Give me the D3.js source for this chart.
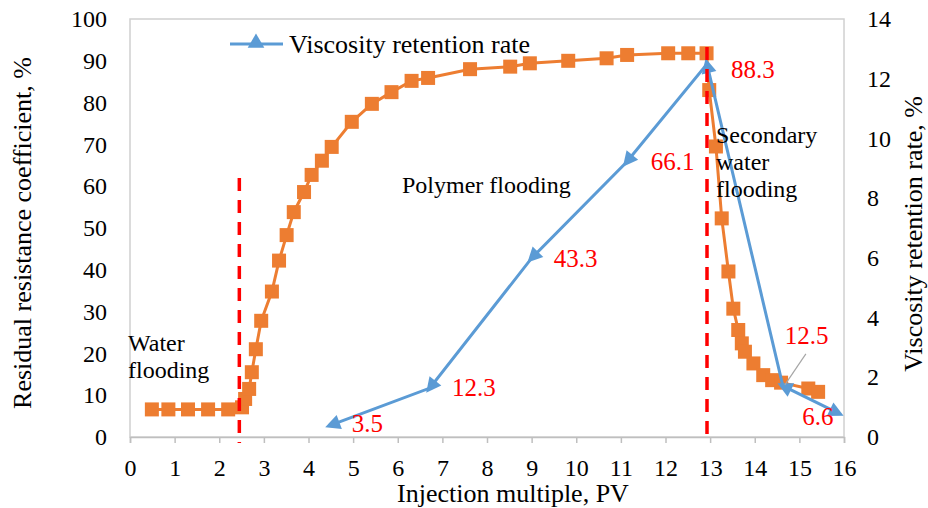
<!DOCTYPE html>
<html>
<head>
<meta charset="utf-8">
<script src="https://cdn.jsdelivr.net/npm/d3@7/dist/d3.min.js"></script>
<style>
  html, body { margin: 0; padding: 0; background: #fff; }
  svg { display: block; }
  svg text { font-family: "Liberation Serif", "Times New Roman", serif; }
</style>
</head>
<body>
<svg id="chart" width="928" height="508"></svg>
<script>
// ---------- data ----------
// Residual resistance coefficient (left axis)
const rrfX = [0.49,0.86,1.30,1.75,2.20,2.51,2.58,2.67,2.73,2.82,2.94,3.18,3.34,3.51,3.67,3.90,4.07,4.30,4.52,4.97,5.42,5.86,6.31,6.68,7.62,8.52,8.96,9.82,10.68,11.14,12.06,12.51,12.92,12.98,13.13,13.26,13.41,13.52,13.63,13.71,13.78,13.97,14.19,14.39,14.59,15.20,15.42];
const rrfY = [6.6,6.6,6.6,6.6,6.6,7.1,9.1,11.5,15.5,21.0,27.8,34.8,42.2,48.3,53.8,58.6,62.7,66.1,69.4,75.4,79.7,82.5,85.2,85.9,88.0,88.6,89.4,90.0,90.6,91.4,91.8,91.8,91.8,83.0,69.5,52.3,39.6,30.7,25.6,22.4,20.4,17.6,14.8,13.6,13.0,11.6,10.8];
// Viscosity retention rate (right axis)
const vrX = [4.50,6.72,9.00,11.13,12.93,14.63,15.87];
const vrY = [0.40,1.64,5.99,9.21,12.49,1.71,0.80];
const vrLabels = ["3.5","12.3","43.3","66.1","88.3","12.5","6.6"];
// stage boundaries (injection multiple, PV)
const stageBounds = [2.45, 12.93];
// ticks
const xTicks = d3.range(0, 17, 1);
const yLeftTicks = d3.range(0, 101, 10);
const yRightTicks = d3.range(0, 15, 2);

// ---------- layout ----------
const SERIF = "Liberation Serif, Times New Roman, serif";
const svg = d3.select("#chart");
const L = 130, R = 844, T = 19, B = 437;
const x = d3.scaleLinear().domain([0, 16]).range([L, R]);
const yL = d3.scaleLinear().domain([0, 100]).range([B, T]);
const yR = d3.scaleLinear().domain([0, 14]).range([B, T]);

const ORANGE = "#ED7D31", BLUE = "#5B9BD5", RED = "#FF0000", GRID = "#BFBFBF";
const FONT = 24;

// plot border
svg.append("rect").attr("x", L).attr("y", T).attr("width", R - L).attr("height", B - T)
  .attr("fill", "none").attr("stroke", "#D0D0D0").attr("stroke-width", 1.5);

// x axis
const gx = svg.append("g").attr("transform", `translate(0,${B})`)
  .call(d3.axisBottom(x).tickValues(xTicks).tickFormat(d3.format("d")).tickSize(6).tickPadding(16));
gx.attr("font-family", SERIF);
gx.select(".domain").attr("stroke", GRID).attr("stroke-width", 1.5);
gx.selectAll(".tick line").attr("stroke", GRID).attr("stroke-width", 1.5);
gx.selectAll("text").attr("font-size", FONT).attr("fill", "#000").attr("font-family", SERIF);

// left axis
const gl = svg.append("g").attr("transform", `translate(${L},0)`)
  .call(d3.axisLeft(yL).tickValues(yLeftTicks).tickSize(0).tickPadding(23));
gl.attr("font-family", SERIF);
gl.select(".domain").remove();
gl.selectAll("text").attr("font-size", FONT).attr("fill", "#000").attr("font-family", SERIF);

// right axis
const gr = svg.append("g").attr("transform", `translate(${R},0)`)
  .call(d3.axisRight(yR).tickValues(yRightTicks).tickSize(0).tickPadding(23));
gr.attr("font-family", SERIF);
gr.select(".domain").remove();
gr.selectAll("text").attr("font-size", FONT).attr("fill", "#000").attr("font-family", SERIF);

// axis titles
svg.append("text").attr("x", 513).attr("y", 502).attr("text-anchor", "middle")
  .attr("font-family", SERIF).attr("font-size", 26).text("Injection multiple, PV");
svg.append("text").attr("transform", "translate(31,233) rotate(-90)").attr("text-anchor", "middle")
  .attr("font-family", SERIF).attr("font-size", 26).text("Residual resistance coefficient, %");
svg.append("text").attr("transform", "translate(922,234) rotate(-90)").attr("text-anchor", "middle")
  .attr("font-family", SERIF).attr("font-size", 26).text("Viscosity retention rate, %");

// ---------- orange series ----------
const rrf = rrfX.map((d, i) => [d, rrfY[i]]);
svg.append("path").datum(rrf)
  .attr("fill", "none").attr("stroke", ORANGE).attr("stroke-width", 3)
  .attr("d", d3.line().x(d => x(d[0])).y(d => yL(d[1])));
const SQ = 14;
svg.append("g").selectAll("rect").data(rrf).join("rect")
  .attr("x", d => x(d[0]) - SQ / 2).attr("y", d => yL(d[1]) - SQ / 2)
  .attr("width", SQ).attr("height", SQ).attr("fill", ORANGE);

// ---------- blue series ----------
const vr = vrX.map((d, i) => [x(d), yR(vrY[i])]);
svg.append("path").datum(vr)
  .attr("fill", "none").attr("stroke", BLUE).attr("stroke-width", 3)
  .attr("d", d3.line());
function arrowHead(p, from) {
  const dx = p[0] - from[0], dy = p[1] - from[1];
  const len = Math.hypot(dx, dy), ux = dx / len, uy = dy / len;
  const tip = [p[0] + ux * 6, p[1] + uy * 6];
  const base = [p[0] - ux * 9, p[1] - uy * 9];
  const w = 7.5;
  return [tip, [base[0] - uy * w, base[1] + ux * w], [base[0] + uy * w, base[1] - ux * w]];
}
const heads = vr.map((p, i) => i < vr.length - 1 ? arrowHead(p, vr[i + 1]) : arrowHead(p, vr[i - 1]));
svg.append("g").selectAll("path").data(heads).join("path")
  .attr("d", d => "M" + d.map(q => q.join(",")).join("L") + "Z").attr("fill", BLUE);

// leader line for 12.5
svg.append("line").attr("x1", vr[5][0] + 2).attr("y1", vr[5][1] - 1)
  .attr("x2", vr[5][0] + 23).attr("y2", vr[5][1] - 32)
  .attr("stroke", "#A6A6A6").attr("stroke-width", 1.2);

// data labels
const labelOff = [[21, 7], [22, 8], [22, 9], [24, 8], [24, 14], [2, -42], [-36, 12]];
svg.append("g").attr("font-family", SERIF).selectAll("text").data(vr).join("text")
  .attr("x", (d, i) => d[0] + labelOff[i][0]).attr("y", (d, i) => d[1] + labelOff[i][1])
  .attr("font-family", SERIF).attr("font-size", 25).attr("fill", RED).text((d, i) => vrLabels[i]);

// ---------- stage boundaries ----------
const boundTop = [178, 47];
svg.append("g").selectAll("line").data(stageBounds).join("line")
  .attr("x1", d => x(d)).attr("x2", d => x(d))
  .attr("y1", (d, i) => boundTop[i]).attr("y2", B + 6)
  .attr("stroke", RED).attr("stroke-width", 3.5).attr("stroke-dasharray", "13,9");

// ---------- annotations ----------
function multi(xp, yp, lines, lh) {
  const t = svg.append("text").attr("x", xp).attr("y", yp).attr("font-family", SERIF)
    .attr("font-size", FONT).attr("fill", "#000");
  lines.forEach((s, i) => t.append("tspan").attr("x", xp).attr("dy", i === 0 ? 0 : lh).text(s));
}
multi(128, 351, ["Water", "flooding"], 27);
multi(402, 193, ["Polymer flooding"], 27);
multi(716, 143, ["Secondary", "water", "flooding"], 27);

// ---------- legend ----------
svg.append("line").attr("x1", 230).attr("x2", 283).attr("y1", 44).attr("y2", 44)
  .attr("stroke", BLUE).attr("stroke-width", 3);
svg.append("path").attr("d", d3.symbol(d3.symbolTriangle, 120)()).attr("transform", "translate(256,43)")
  .attr("fill", BLUE);
svg.append("text").attr("x", 289).attr("y", 53).attr("font-family", SERIF).attr("font-size", 26)
  .text("Viscosity retention rate");
</script>
</body>
</html>
